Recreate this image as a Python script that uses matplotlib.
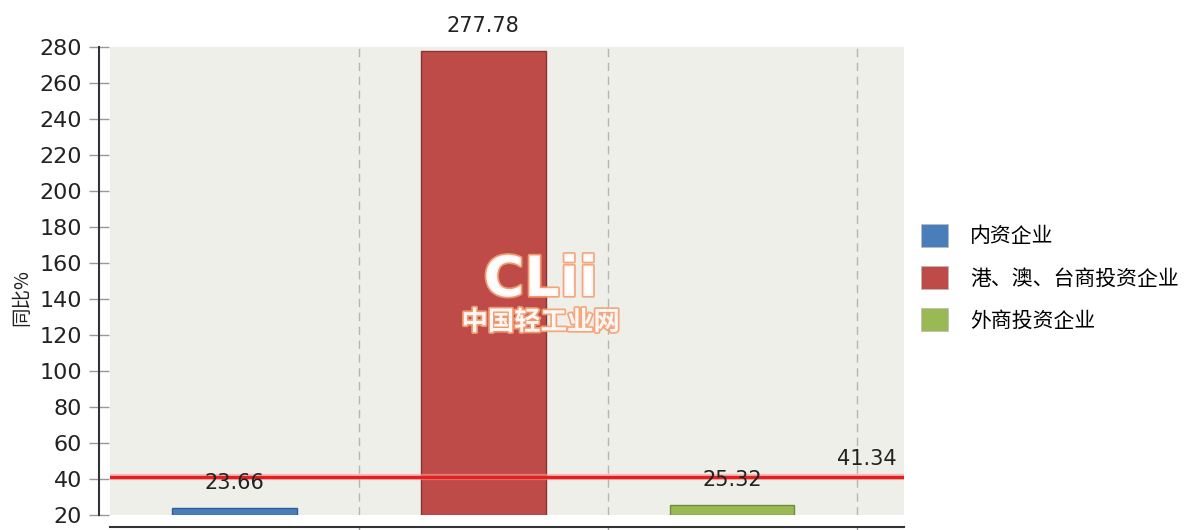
import matplotlib
matplotlib.use("Agg")
import matplotlib.pyplot as plt
import matplotlib.patheffects as pe
from matplotlib.patches import Patch

categories = ["内资企业", "港、澳、台商投资企业", "外商投资企业"]
values = [23.66, 277.78, 25.32]
colors = ["#4a7ebb", "#be4b48", "#98b954"]
edges = ["#2f5f95", "#8c3330", "#6f8c3a"]
avg_value = 41.34
yticks = list(range(20, 281, 20))

NUM_FONT = ["DejaVu Sans"]
CJK_FONT = ["Noto Sans CJK SC", "DejaVu Sans"]
INK = "#222222"
PX = 72 / 100  # points per pixel

fig = plt.figure(figsize=(11.95, 5.30), dpi=100)
fig.patch.set_facecolor("white")
ax = fig.add_axes([110 / 1195, 15 / 530, 794 / 1195, 468 / 530])
ax.set_facecolor("#efefe9")

x = list(range(len(values)))
base = 20
ax.bar(x, [v - base for v in values], bottom=base, width=0.5,
       color=colors, edgecolor=edges, linewidth=1.0, zorder=3)
for xi, v in zip(x, values):
    ax.text(xi, v + 8.5, f"{v:.2f}", ha="center", va="bottom",
            fontsize=15, family=NUM_FONT, color=INK, zorder=5)

ax.axhline(avg_value, color="#e51e1e", lw=2.4, zorder=4,
           path_effects=[pe.Stroke(linewidth=4.5, foreground="#f3a0a0", alpha=0.6), pe.Normal()])
ax.text(2.69 - 0.03, avg_value + 4, f"{avg_value:.2f}", ha="right", va="bottom",
        fontsize=15, family=NUM_FONT, color=INK, zorder=5)

ax.set_xlim(-0.5, 2.69)
ax.set_ylim(20, 280)
ax.set_yticks(yticks)
ax.set_xticks([0.5, 1.5, 2.5])
ax.set_xticklabels([])
ax.grid(axis="x", color="#b5b5b5", ls=(0, (6, 4)), lw=1.0, zorder=1)
ax.grid(axis="y", visible=False)
ax.tick_params(axis="y", direction="inout", length=20 * PX, width=1, color="#999999",
               pad=5, labelsize=16, labelcolor=INK, labelfontfamily="DejaVu Sans")
ax.tick_params(axis="x", direction="out", length=4, width=1, color="#999999")

for s in ("top", "right"):
    ax.spines[s].set_visible(False)
ax.spines["left"].set_position(("outward", 11 * PX))
ax.spines["bottom"].set_position(("outward", 12 * PX))
ax.spines["left"].set_color("#333333")
ax.spines["bottom"].set_color("#333333")
ax.spines["left"].set_linewidth(1.5)
ax.spines["bottom"].set_linewidth(1.5)

# watermark
ax.text(1.23, 150, "CLii", ha="center", va="center", fontsize=40, weight="bold",
        family=["DejaVu Sans"], color="white", alpha=0.9, zorder=6,
        path_effects=[pe.withStroke(linewidth=2.5, foreground="#f4a074")])
ax.text(1.23, 127, "中国轻工业网", ha="center", va="center", fontsize=19, weight="bold",
        family=CJK_FONT, color="white", alpha=0.9, zorder=6,
        path_effects=[pe.withStroke(linewidth=2.5, foreground="#f4a074")])

fig.text(22 / 1195, 1 - 298 / 530, "同比%", rotation=90, ha="center", va="center",
         fontsize=14, family=CJK_FONT, color=INK)

handles = [Patch(facecolor=c, edgecolor="#bbbbbb", lw=0.5) for c in colors]
fig.legend(handles, categories, loc="upper left", bbox_to_anchor=(921 / 1195, 1 - 224 / 530),
           frameon=False, prop={"family": CJK_FONT, "size": 15}, handlelength=1.3,
           handleheight=1.3, handletextpad=1.05, labelspacing=0.9, borderpad=0, borderaxespad=0)

fig.savefig("out.png", dpi=100, facecolor="white")
